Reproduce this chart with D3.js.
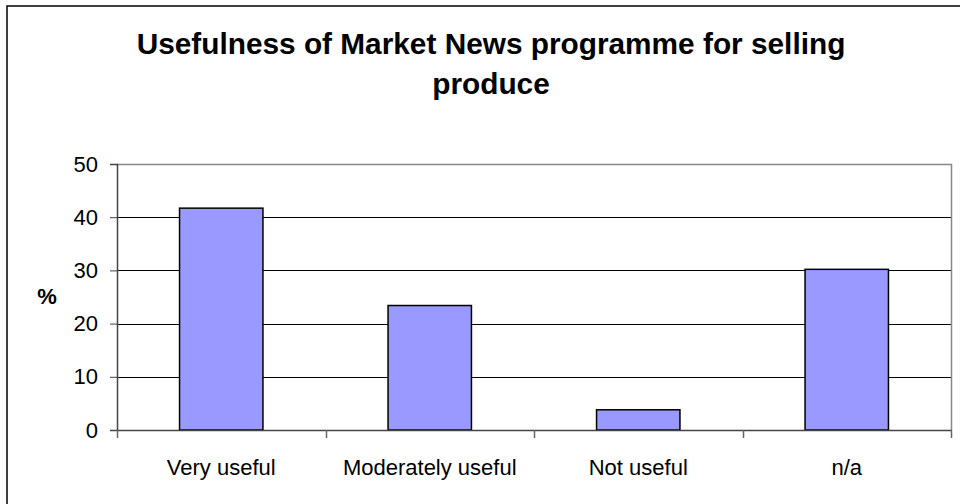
<!DOCTYPE html>
<html>
<head>
<meta charset="utf-8">
<script src="https://cdn.jsdelivr.net/npm/d3@7"></script>
<style>
  html, body { margin: 0; padding: 0; background: #fff; }
  svg { display: block; font-family: "Liberation Sans", Arial, sans-serif; }
</style>
</head>
<body>
<svg id="chart" width="960" height="504"></svg>
<script>
// Survey result: usefulness of the Market News programme for selling produce (%)
const categories = ["Very useful", "Moderately useful", "Not useful", "n/a"];
const percentages = [41.7, 23.4, 3.8, 30.2];
const yTicks = [0, 10, 20, 30, 40, 50];
const titleLines = ["Usefulness of Market News programme for selling", "produce"];
const yAxisLabel = "%";

const data = categories.map((c, i) => ({ category: c, value: percentages[i] }));

const svg = d3.select("#chart");
const plot = { left: 117, right: 951, top: 164, bottom: 430 };

// Outer chart frame
svg.append("rect")
  .attr("x", 7).attr("y", 6)
  .attr("width", 1000).attr("height", 600)
  .attr("fill", "#fff")
  .attr("stroke", "#000").attr("stroke-width", 1.5);

// Title
svg.append("text")
  .attr("x", 491).attr("y", 54)
  .attr("text-anchor", "middle")
  .attr("font-size", 29.8).attr("font-weight", "bold")
  .selectAll("tspan").data(titleLines).join("tspan")
  .attr("x", 491).attr("dy", (d, i) => i === 0 ? 0 : 40)
  .text(d => d);

// Scales
const y = d3.scaleLinear().domain([0, 50]).range([plot.bottom, plot.top]);
const xCat = d3.scaleBand().domain(categories).range([plot.left, plot.right]).padding(0);
const xBar = d3.scaleBand().domain(categories).range([plot.left, plot.right])
  .paddingInner(0.6).paddingOuter(0.3);

// Horizontal gridlines
svg.append("g")
  .selectAll("line").data(yTicks.filter(t => t > 0 && t < 50)).join("line")
  .attr("x1", plot.left).attr("x2", plot.right)
  .attr("y1", d => Math.round(y(d)) + 0.5).attr("y2", d => Math.round(y(d)) + 0.5)
  .attr("stroke", "#000").attr("stroke-width", 1);

// Plot area border (top and right)
svg.append("path")
  .attr("d", `M${plot.left},${plot.top + 0.5}H${plot.right + 0.5}V${plot.bottom}`)
  .attr("fill", "none").attr("stroke", "#888").attr("stroke-width", 1.5);

// Bars
svg.append("g")
  .selectAll("rect").data(data).join("rect")
  .attr("x", d => xBar(d.category))
  .attr("y", d => y(d.value))
  .attr("width", xBar.bandwidth())
  .attr("height", d => y(0) - y(d.value))
  .attr("fill", "#9999FF")
  .attr("stroke", "#000").attr("stroke-width", 1.5);

// Y axis
const yAxis = d3.axisLeft(y).tickValues(yTicks).tickSize(7).tickPadding(12)
  .tickFormat(d3.format("d"));
const gy = svg.append("g")
  .attr("transform", `translate(${plot.left},0)`)
  .call(yAxis);
gy.select(".domain").attr("stroke", "#444").attr("stroke-width", 1.5);
gy.selectAll(".tick line").attr("stroke", "#444");
gy.selectAll(".tick text")
  .attr("font-family", "Liberation Sans, Arial, sans-serif")
  .attr("font-size", 22).attr("fill", "#000");

// X axis: ticks at category boundaries, labels centred under each category
const boundaries = categories.map(c => xCat(c)).concat([plot.right]);
const gx = svg.append("g");
gx.append("line")
  .attr("x1", plot.left).attr("x2", plot.right + 1)
  .attr("y1", plot.bottom + 0.5).attr("y2", plot.bottom + 0.5)
  .attr("stroke", "#444").attr("stroke-width", 1.5);
gx.selectAll("line.tick").data(boundaries).join("line")
  .attr("class", "tick")
  .attr("x1", d => Math.round(d) + 0.5).attr("x2", d => Math.round(d) + 0.5)
  .attr("y1", plot.bottom).attr("y2", plot.bottom + 8)
  .attr("stroke", "#666").attr("stroke-width", 1.5);
gx.selectAll("text").data(categories).join("text")
  .attr("x", d => xCat(d) + xCat.bandwidth() / 2)
  .attr("y", 475)
  .attr("text-anchor", "middle")
  .attr("font-size", 22)
  .text(d => d);

// Y axis title
svg.append("text")
  .attr("x", 47).attr("y", 304)
  .attr("text-anchor", "middle")
  .attr("font-size", 22).attr("font-weight", "bold")
  .text(yAxisLabel);
</script>
</body>
</html>
